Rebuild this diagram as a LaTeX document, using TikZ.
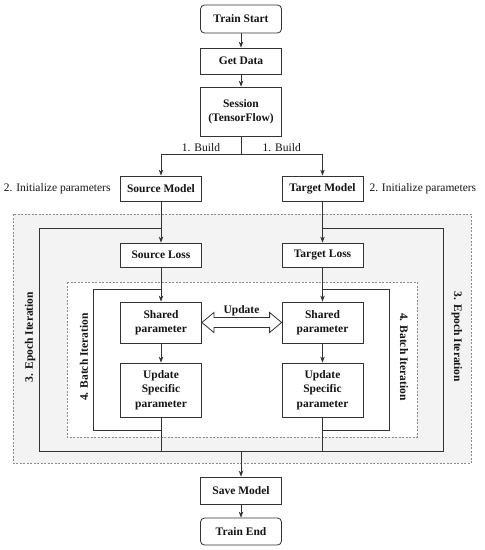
\documentclass[tikz,border=0pt]{standalone}
\usepackage{fontspec}
\setmainfont{Liberation Serif}
\usetikzlibrary{arrows.meta,calc}
\definecolor{linecol}{HTML}{333333}
\definecolor{textcol}{HTML}{141414}
\definecolor{dashcol}{HTML}{8a8a8a}
\definecolor{panelbg}{HTML}{F3F3F3}

\tikzset{
  box/.style={draw=linecol, line width=0.8pt, fill=white, minimum width=81pt,
    text=textcol, align=center, inner sep=2pt,
    font=\fontsize{11.5}{14.4}\selectfont\bfseries},
  rbox/.style={box, rounded corners=4pt},
  lbl/.style={text=textcol, font=\fontsize{11.5}{14.4}\selectfont},
  blbl/.style={lbl, font=\fontsize{11.5}{14.4}\selectfont\bfseries},
  line/.style={draw=linecol, line width=0.8pt},
  arr/.style={line, -{Stealth[length=6pt,width=4.5pt]}},
  zone/.style={draw=dashcol, line width=0.7pt, dash pattern=on 2pt off 1.5pt}
}

\begin{document}
\begin{tikzpicture}[x=1pt, y=-1pt]
\useasboundingbox (0,0) rectangle (485,550);

% --- Background zones ---
\fill[panelbg, zone] (13,214) rectangle (471,463);
\fill[white, zone] (67,282) rectangle (417,437);

% --- Top of flow ---
\node[rbox, minimum height=28pt] (start) at (241,19) {Train Start};
\node[box, minimum height=26pt] (getdata) at (241,61) {Get Data};
\node[box, minimum height=49pt] (session) at (241,111.5) {Session\\(TensorFlow)};

% --- Models ---
\node[box, minimum height=25pt] (srcmodel) at (161,188.5) {Source Model};
\node[box, minimum height=25pt] (tgtmodel) at (322.5,188.5) {Target Model};
\node[lbl, anchor=east] (srcinit) at (114,189) {2. Initialize parameters};
\node[lbl, anchor=west] (tgtinit) at (366,189) {2. Initialize parameters};

% --- Losses ---
\node[box, minimum height=24pt] (srcloss) at (161,255) {Source Loss};
\node[box, minimum height=24pt] (tgtloss) at (322.5,255) {Target Loss};

% --- Batch blocks ---
\node[box, minimum height=41pt] (srcshared) at (161,322.5) {Shared\\parameter};
\node[box, minimum height=41pt] (tgtshared) at (322.5,322.5) {Shared\\parameter};
\node[box, minimum height=54pt] (srcupd) at (161,390) {Update\\Specific\\parameter};
\node[box, minimum height=54pt] (tgtupd) at (322.5,390) {Update\\Specific\\parameter};

% --- Bottom of flow ---
\node[box, minimum height=27pt] (save) at (241,490.5) {Save Model};
\node[rbox, minimum height=27pt] (trainend) at (241,531.5) {Train End};

% --- Iteration labels ---
\node[blbl, rotate=90] (eplbl) at (30,337) {3. Epoch Iteration};
\node[blbl, rotate=-90] (eprbl) at (457,337) {3. Epoch Iteration};
\node[blbl, rotate=90] (btlbl) at (84,357) {4. Batch Iteration};
\node[blbl, rotate=-90] (btrbl) at (404,357) {4. Batch Iteration};

% --- Loop corners ---
\coordinate (br) at (241,154);
\coordinate (eptop) at (0,228);
\coordinate (epbot) at (241,451);
\coordinate (bttop) at (0,289);
\coordinate (btbot) at (0,430);

% Main connectors
\draw[arr] (start) -- (getdata);
\draw[arr] (getdata) -- (session);
\draw[line] (session) -- (br);
\draw[arr] (br) -| node[lbl, pos=0.25, above=-1pt] {1. Build} (srcmodel);
\draw[arr] (br) -| node[lbl, pos=0.25, above=-1pt] {1. Build} (tgtmodel);
\draw[arr] (srcmodel) -- (srcloss);
\draw[arr] (tgtmodel) -- (tgtloss);
\draw[arr] (srcloss) -- (srcshared);
\draw[arr] (tgtloss) -- (tgtshared);
\draw[arr] (srcshared) -- (srcupd);
\draw[arr] (tgtshared) -- (tgtupd);
\draw[line] (srcupd) -- (srcupd |- epbot);
\draw[line] (tgtupd) -- (tgtupd |- epbot);
\draw[arr] (epbot) -- (save);
\draw[arr] (save) -- (trainend);

% Epoch loop
\draw[line] (srcmodel |- eptop) -- (39,228) -- (39,451) -- (443,451)
  -- (443,228) -- (tgtmodel |- eptop);

% Batch loops
\draw[line] (srcloss |- bttop) -- (93,289) -- (93,430) -- (srcupd |- btbot);
\draw[line] (tgtloss |- bttop) -- (389,289) -- (389,430) -- (tgtupd |- btbot);

% Update double arrow
\draw[line, fill=white] (srcshared.east) -- ++(12,-10) -- ++(0,5)
  -- ($(tgtshared.west)+(-12,-5)$) -- ++(0,-5) -- (tgtshared.west)
  -- ++(-12,10) -- ++(0,-5) -- ($(srcshared.east)+(12,5)$) -- ++(0,5) -- cycle;
\node[blbl] (updlbl) at (241.5,310.5) {Update};

\end{tikzpicture}
\end{document}
